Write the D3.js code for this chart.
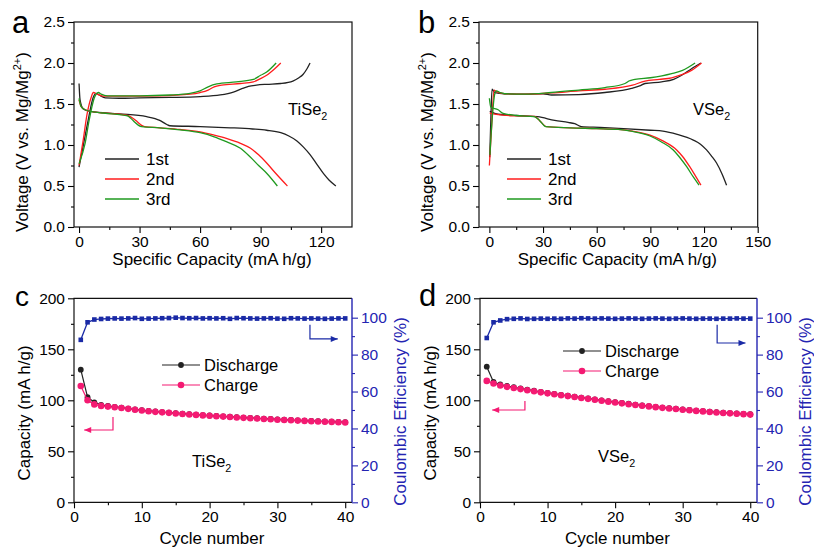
<!DOCTYPE html>
<html>
<head>
<meta charset="utf-8">
<script src="https://cdn.jsdelivr.net/npm/d3@7/dist/d3.min.js"></script>
<style>
  body { margin: 0; background: #fff; }
  svg { display: block; }
</style>
</head>
<body>
<svg id="chart"></svg>
<script>
// ---- panel a : TiSe2 voltage profiles [capacity mA h/g, voltage V] ----
const tiDis1 = [[0,1.75],[0.5,1.55],[2.1,1.44],[5.5,1.41],[20,1.38],[33.5,1.345],[40,1.30],[43.5,1.25],[45,1.235],[60,1.225],[75,1.21],[86,1.195],[93,1.18],[100,1.15],[104,1.11],[108,1.05],[111,0.98],[114.6,0.88],[118,0.76],[121.2,0.65],[124,0.57],[127.3,0.5]];
const tiDis2 = [[0,1.55],[1,1.47],[3,1.43],[8,1.40],[12,1.39],[20,1.375],[24,1.36],[26.5,1.33],[29,1.28],[31,1.24],[32.5,1.225],[40,1.21],[50,1.19],[60,1.16],[67,1.12],[73,1.08],[80,1.02],[85,0.96],[89,0.88],[93,0.78],[98,0.64],[103.3,0.5]];
const tiDis3 = [[0,1.57],[1,1.47],[3,1.43],[8,1.40],[12,1.39],[20,1.37],[24,1.355],[25.5,1.33],[27.5,1.28],[29.5,1.24],[31,1.225],[40,1.21],[50,1.185],[60,1.15],[67,1.10],[73,1.04],[80,0.96],[85,0.85],[89,0.75],[93,0.655],[98.3,0.5]];
const tiCha1 = [[0,0.73],[2,0.98],[4.5,1.30],[7,1.58],[8.4,1.63],[10,1.61],[13,1.575],[20,1.57],[30,1.575],[45,1.58],[60,1.59],[70,1.61],[76.5,1.645],[81,1.69],[84,1.715],[88,1.73],[93,1.74],[100,1.75],[106,1.78],[109,1.82],[111,1.86],[113,1.93],[114.5,2.0]];
const tiCha2 = [[0,0.75],[2,1.05],[4,1.38],[6,1.58],[7.1,1.64],[9,1.62],[12,1.595],[20,1.595],[40,1.60],[55,1.62],[60,1.64],[64,1.67],[67,1.71],[70.7,1.73],[80,1.75],[86.4,1.77],[90,1.81],[93,1.85],[97,1.93],[100,2.0]];
const tiCha3 = [[0,0.77],[3,1.02],[5,1.30],[7.5,1.57],[9.6,1.64],[11,1.62],[14,1.60],[30,1.60],[45,1.61],[55,1.63],[60,1.66],[64,1.71],[68.3,1.745],[78,1.77],[86.4,1.80],[90,1.85],[93,1.89],[97.7,2.0]];

// ---- panel b : VSe2 voltage profiles ----
const vDis1 = [[0.2,1.41],[5,1.375],[15,1.36],[27,1.345],[36.5,1.30],[44,1.275],[47.7,1.26],[51.4,1.225],[61.8,1.215],[75,1.20],[90,1.18],[97,1.17],[105,1.13],[114,1.06],[118,1.01],[121.4,0.94],[124,0.87],[127,0.78],[130,0.65],[132.6,0.51]];
const vDis2 = [[0.2,1.39],[4.9,1.37],[15,1.355],[25.3,1.35],[28,1.30],[31.8,1.225],[45,1.21],[60,1.20],[72,1.19],[80,1.17],[89.8,1.12],[97,1.05],[104.7,0.94],[108,0.86],[112,0.735],[115,0.63],[118.3,0.51]];
const vDis3 = [[0,1.57],[0.8,1.46],[4.9,1.43],[7.7,1.385],[15,1.36],[25,1.345],[28,1.30],[31.5,1.225],[45,1.21],[60,1.20],[72,1.19],[80,1.165],[89.8,1.11],[96,1.04],[102.8,0.94],[106,0.86],[110.3,0.735],[114,0.61],[117.2,0.51]];
const vCha1 = [[0.2,0.85],[0.8,1.3],[1.5,1.68],[3,1.64],[8.6,1.625],[20,1.62],[30,1.625],[34.8,1.61],[50,1.615],[64.6,1.64],[79.5,1.69],[84,1.72],[87,1.75],[96.3,1.77],[103,1.80],[107.5,1.85],[113,1.93],[118.3,2.0]];
const vCha2 = [[0,0.75],[1.2,1.2],[2.6,1.67],[4,1.65],[8.6,1.625],[20,1.62],[34.6,1.635],[50,1.66],[64.6,1.68],[80,1.73],[87,1.78],[95,1.80],[101.9,1.82],[108,1.86],[113,1.91],[118.6,2.0]];
const vCha3 = [[0.3,0.88],[1.5,1.3],[3,1.62],[3.9,1.66],[6,1.64],[8.6,1.625],[20,1.62],[34.6,1.64],[50,1.67],[64.6,1.70],[75.8,1.75],[78,1.78],[81.4,1.80],[90,1.82],[101.9,1.87],[108,1.91],[115,2.0]];

const cycleLabels = ["1st", "2nd", "3rd"];

// ---- panels c, d : cycling (cycle 1..40) ----
const cycles = d3.range(1, 41);
const tiDisCap = [130,103,98,95.5,94.5,93.6,92.8,91.9,91.1,90.3,89.6,89,88.5,88,87.4,86.9,86.4,86,85.5,85.1,84.7,84.3,83.9,83.5,83.1,82.7,82.4,82,81.7,81.3,81,80.7,80.4,80.1,79.8,79.5,79.3,79.1,78.8,78.6];
const tiChaCap = [114,100,96,94.5,93.8,93.2,92.5,91.6,90.8,90,89.3,88.7,88.2,87.7,87.1,86.6,86.1,85.7,85.2,84.8,84.4,84,83.6,83.2,82.8,82.4,82.1,81.7,81.4,81,80.7,80.4,80.1,79.8,79.5,79.2,79,78.8,78.5,78.3];
const tiCE = [88,97.5,99,99.3,99.5,99.6,99.5,99.6,99.8,99.4,99.5,99.6,99.7,99.8,100,99.8,99.7,99.8,99.6,99.7,99.6,99.7,99.4,99.8,99.7,99.6,99.5,99.6,99.7,99.5,99.4,99.7,99.6,99.5,99.6,99.5,99.4,99.5,99.6,99.6];
const vDisCap = [133,118,115.5,114,112.8,111.6,110.5,109.4,108.3,107.3,106.3,105.4,104.5,103.6,102.7,101.8,100.9,100,99.1,98.2,97.4,96.6,95.8,95,94.3,93.6,92.9,92.3,91.7,91.1,90.5,89.9,89.4,88.9,88.4,87.9,87.5,87.1,86.7,86.3];
const vChaCap = [119,116.5,114.5,113.2,112,111,109.9,108.8,107.8,106.8,105.9,105,104.1,103.2,102.3,101.4,100.5,99.6,98.7,97.8,97,96.2,95.4,94.7,94,93.3,92.6,92,91.4,90.8,90.2,89.6,89.1,88.6,88.1,87.6,87.2,86.8,86.4,86];
const vCE = [89,97.5,98.5,99.2,99.4,99.6,99.3,99.4,99.5,99.4,99.5,99.4,99.6,99.5,99.7,99.6,99.5,99.6,99.5,99.4,99.5,99.6,99.5,99.4,99.5,99.6,99.5,99.4,99.5,99.6,99.5,99.4,99.5,99.5,99.4,99.5,99.5,99.6,99.5,99.5];

const FONT = "'Liberation Sans', Arial, sans-serif";
const BLACK = "#222", RED = "#ff1c1c", GREEN = "#1f9a1f";
const PINK = "#f41a72", NAVY = "#1a2aa6", AXBLUE = "#2424b2";
const lineColors = [BLACK, RED, GREEN];

const svg = d3.select("#chart")
    .attr("width", 814)
    .attr("height", 547)
    .style("font-family", FONT);

svg.append("rect").attr("width", 814).attr("height", 547).attr("fill", "#fff");

// draw one axis with major + minor ticks, everything outward
function drawAxis(g, axisFn, scale, major, minor, fmt, color) {
    g.append("g").call(axisFn(scale).tickValues(minor).tickSize(3).tickFormat(""))
        .call(a => a.select(".domain").remove());
    g.append("g").call(axisFn(scale).tickValues(major).tickSize(6).tickPadding(3).tickFormat(fmt))
        .call(a => a.select(".domain").remove())
        .call(a => a.selectAll("text").style("font-size", "15.5px").style("font-family", FONT).attr("fill", color));
    g.selectAll("line").attr("stroke", color).attr("stroke-width", 1.1);
}

function subText(g, x, y, main, sub, size) {
    const t = g.append("text").attr("x", x).attr("y", y).style("font-size", size + "px");
    t.append("tspan").text(main);
    t.append("tspan").attr("dy", 5).style("font-size", (size * 0.65) + "px").text(sub);
}

function voltagePanel(o) {
    const x = d3.scaleLinear().domain(o.xDomain).range(o.xRange);
    const y = d3.scaleLinear().domain([0, 2.5]).range([227, 22]);
    const g = svg.append("g");

    drawAxis(g.append("g").attr("transform", `translate(0,${y(0)})`), d3.axisBottom, x,
        o.xMajor, o.xMinor, d3.format("d"), "#000");
    drawAxis(g.append("g").attr("transform", `translate(${o.xRange[0]},0)`), d3.axisLeft, y,
        d3.range(0, 2.51, 0.5), d3.range(0.25, 2.5, 0.5), d3.format(".1f"), "#000");

    g.append("rect")
        .attr("x", o.xRange[0]).attr("y", y(2.5))
        .attr("width", o.xRange[1] - o.xRange[0]).attr("height", y(0) - y(2.5))
        .attr("fill", "none").attr("stroke", "#111").attr("stroke-width", 1.2);

    const line = d3.line().x(d => x(d[0])).y(d => y(d[1])).curve(d3.curveMonotoneX);

    o.curves.forEach((pair, i) => {
        pair.forEach(c => {
            g.append("path").datum(c)
                .attr("fill", "none")
                .attr("stroke", lineColors[i])
                .attr("stroke-width", 1.3)
                .attr("stroke-linejoin", "round")
                .attr("d", line);
        });
    });

    // legend
    cycleLabels.forEach((lab, i) => {
        const ly = 159 + i * 20;
        g.append("line")
            .attr("x1", o.legX).attr("x2", o.legX + 34).attr("y1", ly).attr("y2", ly)
            .attr("stroke", lineColors[i]).attr("stroke-width", 1.5);
        g.append("text").attr("x", o.legX + 41).attr("y", ly).attr("dy", "0.36em")
            .style("font-size", "17px").text(lab);
    });

    subText(g, o.nameX, 115, o.name, "2", 16.5);

    g.append("text")
        .attr("x", (o.xRange[0] + o.xRange[1]) / 2 - 1).attr("y", 265)
        .attr("text-anchor", "middle").style("font-size", "17px")
        .text("Specific Capacity (mA h/g)");

    const yt = g.append("text")
        .attr("transform", `translate(${o.xRange[0] - 46.5},142) rotate(-90)`)
        .attr("text-anchor", "middle").style("font-size", "17px");
    yt.append("tspan").text("Voltage (V vs. Mg/Mg");
    yt.append("tspan").attr("dy", -7).style("font-size", "11px").text("2+");
    yt.append("tspan").attr("dy", 7).text(")");

    g.append("text").attr("x", o.letterX).attr("y", 33)
        .style("font-size", "31px").text(o.letter);
}

function cyclePanel(o) {
    const x = d3.scaleLinear().domain([0, 41]).range(o.xRange);
    const y = d3.scaleLinear().domain([0, 200]).range([502.3, 298.3]);
    const y2 = d3.scaleLinear().domain([0, 110.5]).range([502.3, 298.3]);
    const g = svg.append("g");
    const x0 = o.xRange[0], x1 = o.xRange[1];

    drawAxis(g.append("g").attr("transform", `translate(0,${y(0)})`), d3.axisBottom, x,
        [0, 10, 20, 30, 40], [5, 15, 25, 35], d3.format("d"), "#000");
    drawAxis(g.append("g").attr("transform", `translate(${x0},0)`), d3.axisLeft, y,
        d3.range(0, 201, 50), d3.range(25, 200, 50), d3.format("d"), "#000");
    drawAxis(g.append("g").attr("transform", `translate(${x1},0)`), d3.axisRight, y2,
        d3.range(0, 101, 20), d3.range(10, 110, 20), d3.format("d"), AXBLUE);

    // frame: black left/top/bottom, blue right
    g.append("path")
        .attr("d", `M${x1},${y(200)}H${x0}V${y(0)}H${x1}`)
        .attr("fill", "none").attr("stroke", "#111").attr("stroke-width", 1.2);
    g.append("line").attr("x1", x1).attr("x2", x1).attr("y1", y(200)).attr("y2", y(0))
        .attr("stroke", AXBLUE).attr("stroke-width", 1.4);

    const capLine = d3.line().x((d, i) => x(cycles[i])).y(d => y(d));
    const ceLine = d3.line().x((d, i) => x(cycles[i])).y(d => y2(d));

    // discharge (black) underneath, charge (pink) on top
    [[o.dis, BLACK, 2.9], [o.cha, PINK, 3.3]].forEach(([vals, col, r]) => {
        g.append("path").datum(vals).attr("fill", "none").attr("stroke", col)
            .attr("stroke-width", 1.2).attr("d", capLine);
        g.selectAll(null).data(vals).enter().append("circle")
            .attr("cx", (d, i) => x(cycles[i])).attr("cy", d => y(d))
            .attr("r", r).attr("fill", col);
    });

    g.append("path").datum(o.ce).attr("fill", "none").attr("stroke", NAVY)
        .attr("stroke-width", 1.3).attr("d", ceLine);
    g.selectAll(null).data(o.ce).enter().append("rect")
        .attr("x", (d, i) => x(cycles[i]) - 2.3).attr("y", d => y2(d) - 2.3)
        .attr("width", 4.6).attr("height", 4.6).attr("fill", NAVY);

    // legend
    [["Discharge", BLACK, 2.9], ["Charge", PINK, 3.3]].forEach(([lab, col, r], i) => {
        const ly = o.legY + i * 20;
        g.append("line").attr("x1", o.legX).attr("x2", o.legX + 38).attr("y1", ly).attr("y2", ly)
            .attr("stroke", col).attr("stroke-width", 1.2);
        g.append("circle").attr("cx", o.legX + 19).attr("cy", ly).attr("r", r).attr("fill", col);
        g.append("text").attr("x", o.legX + 42).attr("y", ly).attr("dy", "0.36em")
            .style("font-size", "16.5px").text(lab);
    });

    // arrows pointing to their axes
    const arrow = (pts, col, dir) => {
        const p = pts.map(d => [x(d[0]), d[2] ? y2(d[1]) : y(d[1])]);
        g.append("path").attr("d", d3.line()(p)).attr("fill", "none")
            .attr("stroke", col).attr("stroke-width", 1.2);
        const [ex, ey] = p[p.length - 1];
        g.append("path")
            .attr("d", `M${ex},${ey}L${ex - dir * 7},${ey - 3}L${ex - dir * 7},${ey + 3}Z`)
            .attr("fill", col);
    };
    arrow(o.blueArrow.map(d => [d[0], d[1], true]), NAVY, 1);
    arrow(o.pinkArrow, PINK, -1);

    subText(g, o.nameX, o.nameY, o.name, "2", 16.5);

    g.append("text").attr("x", (x0 + x1) / 2 - 1).attr("y", 544)
        .attr("text-anchor", "middle").style("font-size", "17px").text("Cycle number");
    g.append("text").attr("transform", `translate(${x0 - 44},413) rotate(-90)`)
        .attr("text-anchor", "middle").style("font-size", "17px").text("Capacity (mA h/g)");
    g.append("text").attr("transform", `translate(${x1 + 54},411.5) rotate(-90)`)
        .attr("text-anchor", "middle").style("font-size", "17px").attr("fill", AXBLUE)
        .text("Coulombic Efficiency (%)");

    g.append("text").attr("x", o.letterX).attr("y", 306)
        .style("font-size", o.letterSize + "px").text(o.letter);
}

voltagePanel({
    letter: "a", letterX: 12, name: "TiSe", nameX: 288,
    xDomain: [-2.5, 135.3], xRange: [74, 352],
    xMajor: [0, 30, 60, 90, 120], xMinor: [15, 45, 75, 105],
    curves: [[tiDis1, tiCha1], [tiDis2, tiCha2], [tiDis3, tiCha3]],
    legX: 105
});

voltagePanel({
    letter: "b", letterX: 418, name: "VSe", nameX: 693,
    xDomain: [-5.8, 150], xRange: [479, 757.7],
    xMajor: [0, 30, 60, 90, 120, 150], xMinor: [15, 45, 75, 105, 135],
    curves: [[vDis1, vCha1], [vDis2, vCha2], [vDis3, vCha3]],
    legX: 507
});

cyclePanel({
    letter: "c", letterX: 15, letterSize: 28, name: "TiSe", nameX: 192, nameY: 467,
    xRange: [74, 352],
    dis: tiDisCap, cha: tiChaCap, ce: tiCE,
    legX: 162, legY: 365,
    blueArrow: [[34.8, 96.2], [34.8, 88.5], [38.9, 88.5]],
    pinkArrow: [[5.75, 83.6], [5.75, 70.9], [1.5, 70.9]]
});

cyclePanel({
    letter: "d", letterX: 419, letterSize: 31, name: "VSe", nameX: 598, nameY: 462,
    xRange: [480, 757],
    dis: vDisCap, cha: vChaCap, ce: vCE,
    legX: 563, legY: 351,
    blueArrow: [[35.1, 96.2], [35.1, 86.3], [39.3, 86.3]],
    pinkArrow: [[6.65, 99.3], [6.65, 90.5], [1.8, 90.5]]
});
</script>
</body>
</html>
